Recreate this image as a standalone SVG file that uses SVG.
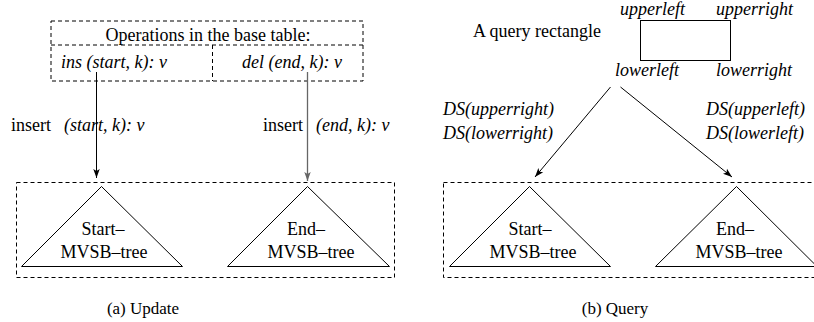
<svg xmlns="http://www.w3.org/2000/svg" width="814" height="322" viewBox="0 0 814 322">
<style>
text{font-family:"Liberation Serif","Times New Roman",serif;font-size:18px;fill:#000}
.i{font-style:italic}
.cap{font-size:17px}
.dash{fill:none;stroke:#000;stroke-width:1;stroke-dasharray:4 3}
.tri{fill:none;stroke:#000;stroke-width:1}
.ln{fill:none;stroke:#000;stroke-width:1}
</style>
<defs>
<marker id="ah" markerWidth="10" markerHeight="8" refX="9" refY="4" orient="auto" markerUnits="userSpaceOnUse">
<path d="M0,0.8 L9,4 L0,7.2 L2,4 Z" fill="#000"/>
</marker>
<marker id="ahg" markerWidth="10" markerHeight="8" refX="9" refY="4" orient="auto" markerUnits="userSpaceOnUse">
<path d="M0,0.8 L9,4 L0,7.2 L2,4 Z" fill="#666"/>
</marker>
</defs>

<g id="ops-table">
<rect class="dash" x="51" y="21" width="312" height="60"/>
<line class="dash" x1="51" y1="45" x2="363" y2="45"/>
<line class="dash" x1="212.5" y1="45" x2="212.5" y2="81"/>
<text x="208" y="41" text-anchor="middle">Operations in the base table:</text>
<text class="i" x="61" y="68">ins (start, k): v</text>
<text class="i" x="242" y="68">del (end, k): v</text>
</g>

<g id="update-box">
<rect class="dash" x="16.5" y="182.5" width="378" height="95"/>
</g>
<g id="start-tree-a">
<polygon class="tri" points="101.5,186.5 21.5,266.5 182.5,266.5"/>
<text x="103" y="235" text-anchor="middle">Start–</text>
<text x="104" y="258" text-anchor="middle">MVSB–tree</text>
</g>
<g id="end-tree-a">
<polygon class="tri" points="307.5,186.5 227.5,266.5 389.5,266.5"/>
<text x="306" y="235" text-anchor="middle">End–</text>
<text x="311" y="258" text-anchor="middle">MVSB–tree</text>
</g>

<g id="query-rect">
<rect x="640.5" y="20.5" width="90" height="40" fill="none" stroke="#000" stroke-width="1"/>
<text x="473" y="37">A query rectangle</text>
<text class="i" x="620" y="15">upperleft</text>
<text class="i" x="716" y="15">upperright</text>
<text class="i" x="615" y="76">lowerleft</text>
<text class="i" x="716" y="76">lowerright</text>
</g>

<g id="query-box">
<rect class="dash" x="443.5" y="182.5" width="380" height="95"/>
</g>
<g id="start-tree-b">
<polygon class="tri" points="529.5,186.5 449.5,266.5 610.5,266.5"/>
<text x="530" y="235" text-anchor="middle">Start–</text>
<text x="533" y="258" text-anchor="middle">MVSB–tree</text>
</g>
<g id="end-tree-b">
<polygon class="tri" points="736.5,186.5 655.5,266.5 817,266.5"/>
<text x="735" y="235" text-anchor="middle">End–</text>
<text x="739" y="258" text-anchor="middle">MVSB–tree</text>
</g>

<g id="connectors">
<line class="ln" x1="96.5" y1="72" x2="96.5" y2="178" marker-end="url(#ah)"/>
<line x1="307.5" y1="72" x2="307.5" y2="181" stroke="#666" stroke-width="1.3" marker-end="url(#ahg)"/>
<line class="ln" x1="610.5" y1="87" x2="535" y2="177" marker-end="url(#ah)"/>
<line class="ln" x1="620.5" y1="87" x2="732" y2="177" marker-end="url(#ah)"/>
</g>

<g id="labels">
<text x="11" y="131">insert</text>
<text class="i" x="64" y="131">(start, k): v</text>
<text x="263" y="131">insert</text>
<text class="i" x="316" y="131">(end, k): v</text>
<text class="i" x="443" y="115">DS(upperright)</text>
<text class="i" x="443" y="139">DS(lowerright)</text>
<text class="i" x="706" y="115">DS(upperleft)</text>
<text class="i" x="706" y="139">DS(lowerleft)</text>
<text class="cap" x="143" y="314" text-anchor="middle">(a) Update</text>
<text class="cap" x="615" y="314" text-anchor="middle">(b) Query</text>
</g>
</svg>
